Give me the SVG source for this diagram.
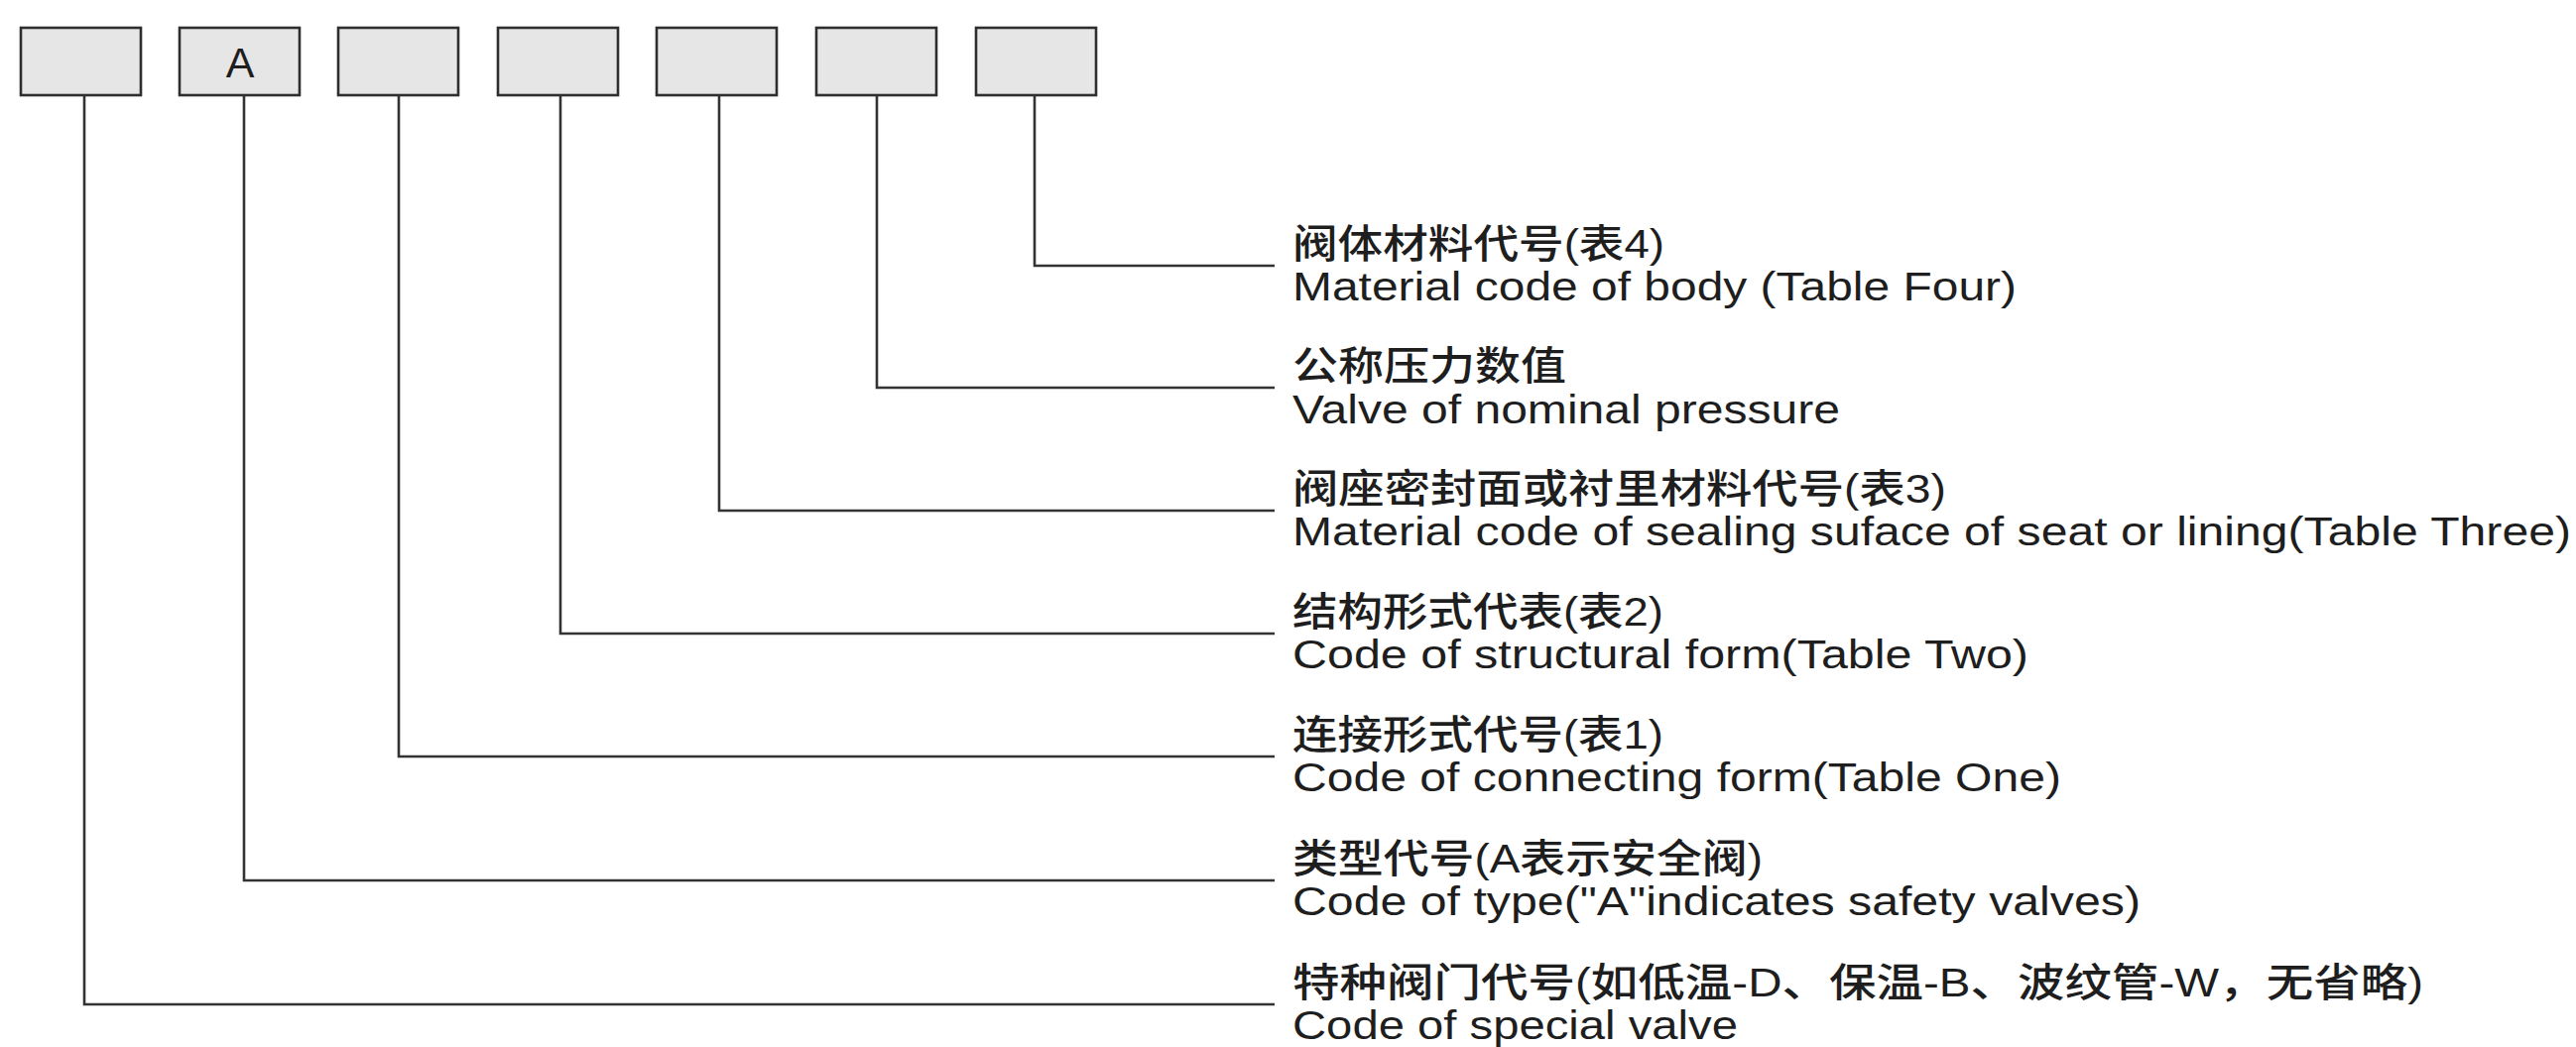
<svg xmlns="http://www.w3.org/2000/svg" width="2597" height="1056" viewBox="0 0 2597 1056">
<style>
.box{fill:#e6e6e6;stroke:#2e2e2e;stroke-width:2.6}
.conn{fill:none;stroke:#333;stroke-width:2.6}
.cn{font-family:"Liberation Sans","Noto Sans CJK SC",sans-serif;font-size:40px;font-weight:500;fill:#1e1e1e}
.en{font-family:"Liberation Sans",Arial,sans-serif;font-size:40px;fill:#1e1e1e}
.lbl{font-family:"Liberation Sans",Arial,sans-serif;font-size:43px;fill:#1e1e1e;text-anchor:middle}
</style>
<rect width="2597" height="1056" fill="#ffffff"/>
<g id="box1"><rect class="box" x="21" y="28" width="121" height="68"/></g>
<g id="box2"><rect class="box" x="181" y="28" width="121" height="68"/><text class="lbl" x="242" y="78">A</text></g>
<g id="box3"><rect class="box" x="341" y="28" width="121" height="68"/></g>
<g id="box4"><rect class="box" x="502" y="28" width="121" height="68"/></g>
<g id="box5"><rect class="box" x="662" y="28" width="121" height="68"/></g>
<g id="box6"><rect class="box" x="823" y="28" width="121" height="68"/></g>
<g id="box7"><rect class="box" x="984" y="28" width="121" height="68"/></g>
<g id="connectors">
<polyline class="conn" points="1043,96 1043,268 1285,268"/>
<polyline class="conn" points="884,96 884,391 1285,391"/>
<polyline class="conn" points="725,96 725,515 1285,515"/>
<polyline class="conn" points="565,96 565,639 1285,639"/>
<polyline class="conn" points="402,96 402,763 1285,763"/>
<polyline class="conn" points="246,96 246,888 1285,888"/>
<polyline class="conn" points="85,96 85,1013 1285,1013"/>
</g>
<g id="label-body">
<text class="cn" x="1303" y="260" textLength="375" lengthAdjust="spacingAndGlyphs">阀体材料代号(表4)</text>
<text class="en" x="1303" y="303" textLength="730" lengthAdjust="spacingAndGlyphs">Material code of body (Table Four)</text>
</g>
<g id="label-pressure">
<text class="cn" x="1303" y="383" textLength="276" lengthAdjust="spacingAndGlyphs">公称压力数值</text>
<text class="en" x="1303" y="427" textLength="552" lengthAdjust="spacingAndGlyphs">Valve of nominal pressure</text>
</g>
<g id="label-seat">
<text class="cn" x="1303" y="507" textLength="659" lengthAdjust="spacingAndGlyphs">阀座密封面或衬里材料代号(表3)</text>
<text class="en" x="1303" y="550" textLength="1289" lengthAdjust="spacingAndGlyphs">Material code of sealing suface of seat or lining(Table Three)</text>
</g>
<g id="label-structure">
<text class="cn" x="1303" y="631" textLength="374" lengthAdjust="spacingAndGlyphs">结构形式代表(表2)</text>
<text class="en" x="1303" y="674" textLength="742" lengthAdjust="spacingAndGlyphs">Code of structural form(Table Two)</text>
</g>
<g id="label-connect">
<text class="cn" x="1303" y="755" textLength="374" lengthAdjust="spacingAndGlyphs">连接形式代号(表1)</text>
<text class="en" x="1303" y="798" textLength="775" lengthAdjust="spacingAndGlyphs">Code of connecting form(Table One)</text>
</g>
<g id="label-type">
<text class="cn" x="1303" y="880" textLength="474" lengthAdjust="spacingAndGlyphs">类型代号(A表示安全阀)</text>
<text class="en" x="1303" y="923" textLength="855" lengthAdjust="spacingAndGlyphs">Code of type("A"indicates safety valves)</text>
</g>
<g id="label-special">
<text class="cn" x="1303" y="1005" textLength="1140" lengthAdjust="spacingAndGlyphs">特种阀门代号(如低温-D、保温-B、波纹管-W，无省略)</text>
<text class="en" x="1303" y="1048" textLength="449" lengthAdjust="spacingAndGlyphs">Code of special valve</text>
</g>
</svg>
